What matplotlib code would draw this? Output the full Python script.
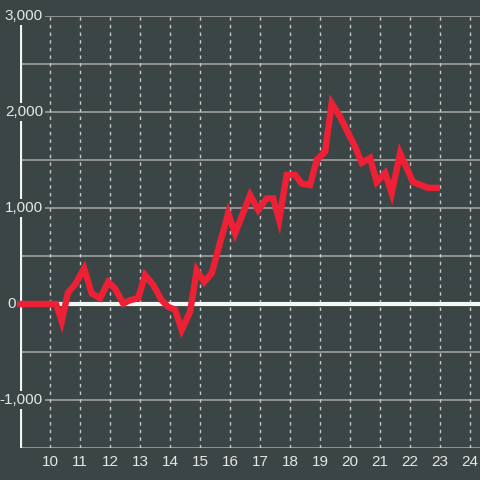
import matplotlib
matplotlib.use("Agg")
import matplotlib.pyplot as plt

# values
hours = [8.9, 10.2, 10.39, 10.6, 10.83, 11.14, 11.39, 11.67, 11.94, 12.17,
         12.44, 12.67, 12.94, 13.17, 13.44, 13.72, 13.94, 14.17, 14.39, 14.67,
         14.89, 15.14, 15.39, 15.94, 16.17, 16.67, 16.94, 17.22, 17.44, 17.64,
         17.89, 18.17, 18.39, 18.67, 18.89, 19.17, 19.39, 19.67, 19.94, 20.17,
         20.39, 20.67, 20.89, 21.17, 21.39, 21.67, 22.1, 22.6, 23.0]
balance = [0, 0, -180, 120, 200, 370, 110, 60, 230, 160,
           5, 40, 60, 300, 200, 40, -30, -60, -270, -80,
           350, 230, 320, 945, 735, 1135, 980, 1100, 1100, 875,
           1345, 1345, 1255, 1240, 1500, 1585, 2090, 1950, 1780, 1640,
           1470, 1520, 1270, 1365, 1155, 1570, 1270, 1210, 1210]

y_ticks = [3000, 2000, 1000, -1000]
y_grid = [3000, 2500, 2000, 1500, 1000, 500, -500, -1000, -1500]
x_ticks = list(range(10, 25))

bg = "#3c4545"
txt = "#e6e6e6"

fig = plt.figure(figsize=(4.8, 4.8), dpi=100, facecolor=bg)
ax = fig.add_axes([20/480, 32/480, 460/480, 432/480], facecolor=bg)
ax.set_xlim(9, 9 + 460/30)
ax.set_ylim(-1500, 3000)
for s in ax.spines.values():
    s.set_visible(False)

# grid
for g in y_grid:
    ax.axhline(g, color="#a8a8a8", lw=1.1, zorder=1)
for t in x_ticks:
    ax.axvline(t, color="#c8c8c8", lw=1, ls=(0, (2.5, 3)), zorder=1)
ax.axhline(0, color="#f4f8f4", lw=3, zorder=1.5)
ax.plot([0, 0], [-1500, 2920], transform=ax.get_yaxis_transform(),
        color="#f4f8f4", lw=3, zorder=1.5, solid_capstyle="butt")

# the series
ax.plot(hours, balance, color="#ee2036", lw=4.6, zorder=6,
        solid_joinstyle="miter", solid_capstyle="butt", clip_on=False)

# y labels sit on a background box that hides the axis line
for v in y_ticks:
    ax.text(23/460, v, f"{v:,}", transform=ax.get_yaxis_transform(),
            ha="right", va="center", color=txt, fontsize=11,
            family="Liberation Sans", zorder=5,
            bbox=dict(facecolor=bg, edgecolor="none", pad=1.5))
ax.text(-4/460, 0, "0", transform=ax.get_yaxis_transform(),
        ha="right", va="center", color=txt, fontsize=11,
        family="Liberation Sans", zorder=5, clip_on=False)
ax.set_yticks([])

ax.set_xticks(x_ticks)
ax.set_xticklabels([str(t) for t in x_ticks], color=txt, fontsize=11,
                   family="Liberation Sans")
ax.tick_params(axis="x", length=0, pad=5)

fig.savefig("out.png", dpi=100, facecolor=bg)
